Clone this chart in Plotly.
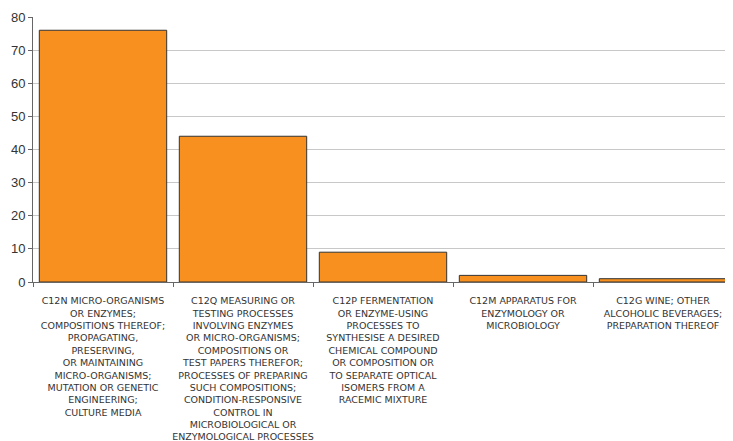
import plotly.graph_objects as go

categories = [
    "C12N MICRO-ORGANISMS<br>OR ENZYMES;<br>COMPOSITIONS THEREOF;<br>PROPAGATING,<br>PRESERVING,<br>OR MAINTAINING<br>MICRO-ORGANISMS;<br>MUTATION OR GENETIC<br>ENGINEERING;<br>CULTURE MEDIA",
    "C12Q MEASURING OR<br>TESTING PROCESSES<br>INVOLVING ENZYMES<br>OR MICRO-ORGANISMS;<br>COMPOSITIONS OR<br>TEST PAPERS THEREFOR;<br>PROCESSES OF PREPARING<br>SUCH COMPOSITIONS;<br>CONDITION-RESPONSIVE<br>CONTROL IN<br>MICROBIOLOGICAL OR<br>ENZYMOLOGICAL PROCESSES",
    "C12P FERMENTATION<br>OR ENZYME-USING<br>PROCESSES TO<br>SYNTHESISE A DESIRED<br>CHEMICAL COMPOUND<br>OR COMPOSITION OR<br>TO SEPARATE OPTICAL<br>ISOMERS FROM A<br>RACEMIC MIXTURE",
    "C12M APPARATUS FOR<br>ENZYMOLOGY OR<br>MICROBIOLOGY",
    "C12G WINE; OTHER<br>ALCOHOLIC BEVERAGES;<br>PREPARATION THEREOF",
]
values = [76, 44, 9, 2, 1]

fig = go.Figure()
fig.add_trace(
    go.Bar(
        x=categories,
        y=values,
        marker=dict(color="#F7901E", line=dict(color="#333333", width=1)),
        width=0.91,
    )
)

# page body has an 8px margin, so the figure is sized 8px smaller
fig.update_layout(
    width=725,
    height=433,
    margin=dict(l=25, r=0, t=9, b=159),
    plot_bgcolor="white",
    paper_bgcolor="white",
    showlegend=False,
    font=dict(family="Liberation Sans, Arial", color="#333333"),
    xaxis=dict(
        automargin=False,
        showgrid=False,
        showline=True,
        linecolor="#666666",
        linewidth=1,
        ticks="outside",
        tickson="boundaries",
        ticklen=4,
        tickcolor="#666666",
        tickangle=0,
        ticklabelstandoff=10,
        tickfont=dict(family="DejaVu Sans", size=9.5, color="#333333"),
    ),
    yaxis=dict(
        automargin=False,
        range=[0, 80],
        dtick=10,
        showgrid=True,
        gridcolor="#c8c8c8",
        gridwidth=1,
        showline=True,
        linecolor="#666666",
        linewidth=1,
        ticks="outside",
        ticklen=4,
        tickcolor="#666666",
        zeroline=False,
        tickfont=dict(size=13, color="#333333"),
    ),
)

fig.write_html("out.html")
